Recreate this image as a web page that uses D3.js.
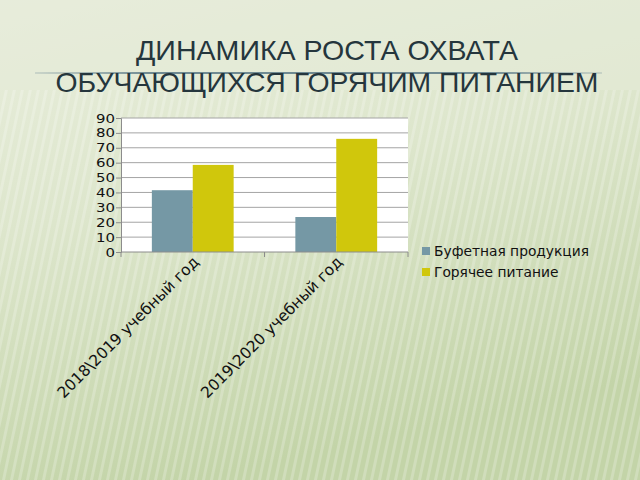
<!DOCTYPE html>
<html>
<head>
<meta charset="utf-8">
<script src="https://cdn.jsdelivr.net/npm/d3@7"></script>
<style>
  body { margin: 0; overflow: hidden; }
  svg { display: block; }
</style>
</head>
<body>
<div id="chart"></div>
<script>
const width = 640, height = 480;

const title_lines = ['ДИНАМИКА РОСТА ОХВАТА', 'ОБУЧАЮЩИХСЯ ГОРЯЧИМ ПИТАНИЕМ'];
const title_widths = [382, 543];
const categories = ['2018\\2019 учебный год', '2019\\2020 учебный год'];
const series_names = ['Буфетная продукция', 'Горячее питание'];
const series_colors = ['#7598a5', '#d0c70c'];
const buffet = [41.5, 23.5];
const hot_meals = [58.5, 76];
const y_ticks = [0, 10, 20, 30, 40, 50, 60, 70, 80, 90];

const series = [buffet, hot_meals];

const plot = { left: 121, right: 408, top: 118, bottom: 252 };

const svg = d3.select('#chart')
    .append('svg')
    .attr('width', width)
    .attr('height', height);

// background: soft green gradient with faint stripes
const defs = svg.append('defs');
const grad = defs.append('linearGradient')
    .attr('id', 'bg')
    .attr('x1', 0).attr('y1', 0).attr('x2', 0.3).attr('y2', 1);
grad.append('stop').attr('offset', '0%').attr('stop-color', '#e9eedd');
grad.append('stop').attr('offset', '45%').attr('stop-color', '#dde6cc');
grad.append('stop').attr('offset', '100%').attr('stop-color', '#c3d4a8');

const stripes = defs.append('pattern')
    .attr('id', 'stripes')
    .attr('patternUnits', 'userSpaceOnUse')
    .attr('width', 8).attr('height', 8)
    .attr('patternTransform', 'skewX(-12)');
stripes.append('rect')
    .attr('width', 3).attr('height', 8)
    .attr('fill', '#ffffff').attr('opacity', 0.22);

svg.append('rect').attr('width', width).attr('height', height).attr('fill', 'url(#bg)');
svg.append('rect').attr('y', 90).attr('width', width).attr('height', height - 90)
    .attr('fill', 'url(#stripes)');
svg.append('rect').attr('width', width).attr('height', 90)
    .attr('fill', '#e6ebd8').attr('opacity', 0.55);

// title rule
const rule = defs.append('linearGradient').attr('id', 'rule');
rule.append('stop').attr('offset', '0%').attr('stop-color', '#8aa0a6').attr('stop-opacity', 0.3);
rule.append('stop').attr('offset', '20%').attr('stop-color', '#6f8a92');
rule.append('stop').attr('offset', '80%').attr('stop-color', '#6f8a92');
rule.append('stop').attr('offset', '100%').attr('stop-color', '#8aa0a6').attr('stop-opacity', 0.3);
svg.append('rect')
    .attr('x', 35).attr('y', 72).attr('width', 567).attr('height', 2)
    .attr('fill', 'url(#rule)');

svg.append('g')
    .selectAll('text')
    .data(title_lines)
    .join('text')
    .attr('x', 327)
    .attr('y', (d, i) => 60 + i * 32)
    .attr('text-anchor', 'middle')
    .attr('font-family', 'Liberation Sans, sans-serif')
    .attr('font-size', '28px')
    .attr('textLength', (d, i) => title_widths[i])
    .attr('lengthAdjust', 'spacingAndGlyphs')
    .attr('fill', '#25363d')
    .text(d => d);

// scales
const x = d3.scaleBand()
    .domain(categories)
    .range([plot.left, plot.right])
    .paddingInner(0.43)
    .paddingOuter(0.215);

const xs = d3.scaleBand()
    .domain(series_names)
    .range([0, x.bandwidth()]);

const y = d3.scaleLinear()
    .domain([0, 90])
    .range([plot.bottom, plot.top]);

svg.append('rect')
    .attr('x', plot.left).attr('y', plot.top)
    .attr('width', plot.right - plot.left).attr('height', plot.bottom - plot.top)
    .attr('fill', '#ffffff');

// grid
svg.append('g')
    .selectAll('line')
    .data(y_ticks.slice(1))
    .join('line')
    .attr('x1', plot.left).attr('x2', plot.right)
    .attr('y1', d => y(d)).attr('y2', d => y(d))
    .attr('stroke', '#a4a4a4')
    .attr('stroke-width', 1);

// bars
const groups = svg.append('g')
    .selectAll('g')
    .data(categories)
    .join('g')
    .attr('transform', d => 'translate(' + x(d) + ',0)');

groups.selectAll('rect')
    .data((d, i) => series.map((s, k) => ({ name: series_names[k], value: s[i], color: series_colors[k] })))
    .join('rect')
    .attr('x', d => xs(d.name))
    .attr('width', xs.bandwidth())
    .attr('y', d => y(d.value))
    .attr('height', d => y(0) - y(d.value))
    .attr('fill', d => d.color);

// y axis
const y_axis = d3.axisLeft(y).tickValues(y_ticks).tickSize(5).tickPadding(1);
const gy = svg.append('g')
    .attr('transform', 'translate(' + plot.left + ',0)')
    .call(y_axis);
gy.select('.domain').attr('stroke', '#8c8c8c');
gy.selectAll('.tick line').attr('stroke', '#8c8c8c');
gy.selectAll('.tick text')
    .attr('font-family', 'DejaVu Sans, sans-serif')
    .attr('font-size', '12.6px')
    .attr('textLength', d => String(d).length * 9.5)
    .attr('lengthAdjust', 'spacingAndGlyphs')
    .attr('fill', '#111');

// x axis with boundary ticks
const gx = svg.append('g').attr('transform', 'translate(0,' + plot.bottom + ')');
gx.append('line')
    .attr('x1', plot.left).attr('x2', plot.right)
    .attr('stroke', '#8c8c8c');
const bounds = [plot.left].concat(categories.map(c => x(c) + x.bandwidth() + x.step() * x.paddingInner() / 2));
gx.selectAll('.bound')
    .data(bounds)
    .join('line')
    .attr('class', 'bound')
    .attr('x1', d => d).attr('x2', d => d)
    .attr('y1', 0).attr('y2', 5)
    .attr('stroke', '#8c8c8c');

gx.selectAll('text')
    .data(categories)
    .join('text')
    .attr('transform', d => 'translate(' + (x(d) + x.bandwidth() / 2 + 7) + ',11) rotate(-45)')
    .attr('text-anchor', 'end')
    .attr('font-family', 'DejaVu Sans, sans-serif')
    .attr('font-size', '15.5px')
    .attr('fill', '#111')
    .text(d => d);

// legend
const legend = svg.append('g')
    .selectAll('g')
    .data(series_names)
    .join('g')
    .attr('transform', (d, i) => 'translate(422,' + (252 + i * 21) + ')');
legend.append('rect')
    .attr('x', 0).attr('y', -5)
    .attr('width', 8).attr('height', 8)
    .attr('fill', (d, i) => series_colors[i]);
legend.append('text')
    .attr('x', 12).attr('y', 4)
    .attr('font-family', 'DejaVu Sans, sans-serif')
    .attr('font-size', '13.8px')
    .attr('fill', '#111')
    .text(d => d);
</script>
</body>
</html>
